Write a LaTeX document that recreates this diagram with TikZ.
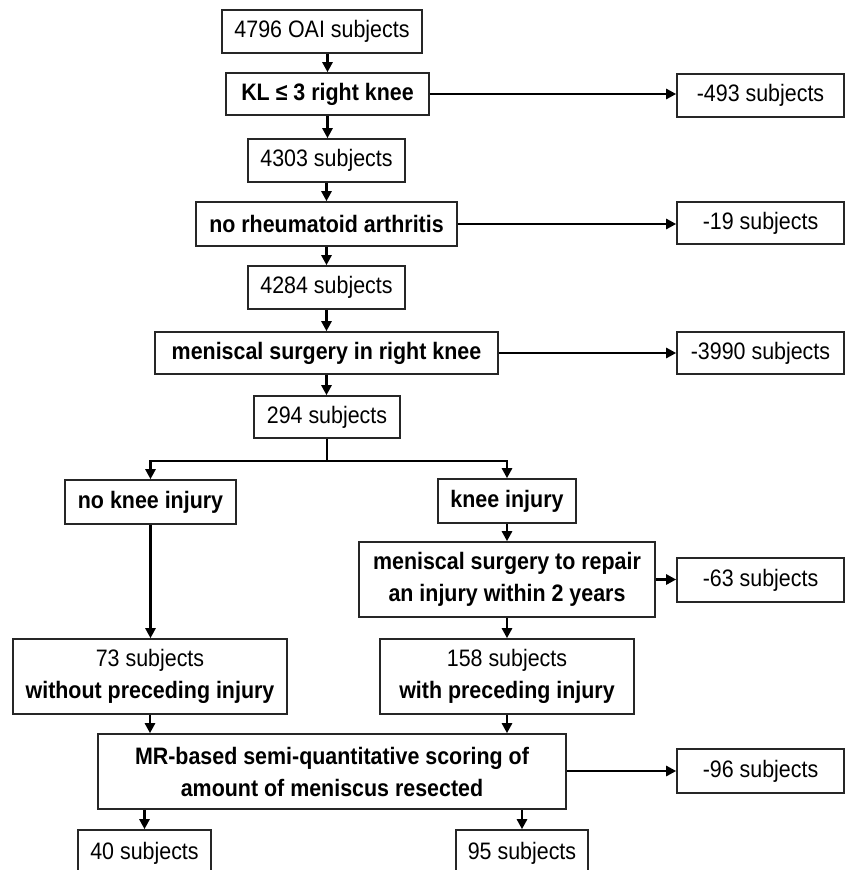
\documentclass[tikz,border=0pt]{standalone}
\usepackage{fontspec}
\setmainfont{Liberation Sans}[FakeStretch=0.9]
\usetikzlibrary{arrows.meta,calc}
\begin{document}
\begin{tikzpicture}[x=1pt,y=-1pt,
  box/.style={draw=black!85,line width=1.6pt,fill=white,inner sep=0pt,align=center,
    font=\fontsize{23.8}{32}\selectfont},
  bbox/.style={box,font=\fontsize{23.8}{32}\selectfont\bfseries},
  conn/.style={line width=2.8pt,draw=black,-{Triangle[length=10pt,width=10pt]}},
  seg/.style={line width=2.8pt,draw=black}]
\useasboundingbox (0,0) rectangle (847,870);
\clip (0,0) rectangle (847,870);
\node[box,minimum width=200pt,minimum height=43pt] (n1) at (322,31.5) {4796 OAI subjects};
\node[bbox,minimum width=203pt,minimum height=42pt] (n2) at (327.5,94) {KL ≤ 3 right knee};
\node[box,minimum width=167pt,minimum height=43pt] (n3) at (760.5,95.5) {-493 subjects};
\node[box,minimum width=157pt,minimum height=43pt] (n4) at (326.5,160.5) {4303 subjects};
\node[bbox,minimum width=261pt,minimum height=44pt] (n5) at (326.5,224) {no rheumatoid arthritis};
\node[box,minimum width=167pt,minimum height=42pt] (n6) at (760.5,223) {-19 subjects};
\node[box,minimum width=157pt,minimum height=43pt] (n7) at (326.5,287.5) {4284 subjects};
\node[bbox,minimum width=343pt,minimum height=42pt] (n8) at (326.5,353) {meniscal surgery in right knee};
\node[box,minimum width=167pt,minimum height=42pt] (n9) at (760.5,353) {-3990 subjects};
\node[box,minimum width=146pt,minimum height=42pt] (n10) at (327,417) {294 subjects};
\node[bbox,minimum width=171pt,minimum height=44pt] (n11) at (150.5,502) {no knee injury};
\node[bbox,minimum width=138pt,minimum height=44pt] (n12) at (507,501) {knee injury};
\node[bbox,minimum width=296pt,minimum height=75pt] (n13) at (507,579.5) {meniscal surgery to repair\\an injury within 2 years};
\node[box,minimum width=167pt,minimum height=44pt] (n14) at (760.5,580) {-63 subjects};
\node[box,minimum width=274pt,minimum height=75pt] (n15) at (150,676.5) {73 subjects\\\textbf{without preceding injury}};
\node[box,minimum width=254pt,minimum height=75pt] (n16) at (507,676.5) {158 subjects\\\textbf{with preceding injury}};
\node[bbox,minimum width=468pt,minimum height=75pt] (n17) at (332,771.5) {MR-based semi-quantitative scoring of\\amount of meniscus resected};
\node[box,minimum width=167pt,minimum height=44pt] (n18) at (760.5,771) {-96 subjects};
\node[box,minimum width=133pt,minimum height=46pt] (n19) at (144.5,853) {40 subjects};
\node[box,minimum width=132pt,minimum height=46pt] (n20) at (522,853) {95 subjects};
\coordinate (br) at (327,461);
% main column
\draw[conn] (n1.south -| n2.north) -- (n2.north);
\draw[conn] (n2.south) -- (n2.south |- n4.north);
\draw[conn] (n4.south) -- (n4.south |- n5.north);
\draw[conn] (n5.south) -- (n5.south |- n7.north);
\draw[conn] (n7.south) -- (n7.south |- n8.north);
\draw[conn] (n8.south) -- (n8.south |- n10.north);
% exclusions
\draw[conn] (n2.east) -- (n2.east -| n3.west);
\draw[conn] (n5.east) -- (n5.east -| n6.west);
\draw[conn] (n8.east) -- (n8.east -| n9.west);
\draw[conn] (n13.east) -- (n13.east -| n14.west);
\draw[conn] (n17.east |- n18.west) -- (n18.west);
% branch
\draw[seg] (n10.south -| br) -- (br);
\draw[conn] (br) -| (n11.north);
\draw[conn] (br) -| (n12.north);
\draw[conn] (n12.south) -- (n12.south |- n13.north);
\draw[conn] (n11.south) -- (n11.south |- n15.north);
\draw[conn] (n13.south) -- (n13.south |- n16.north);
\draw[conn] (n15.south) -- (n15.south |- n17.north);
\draw[conn] (n16.south) -- (n16.south |- n17.north);
\draw[conn] (n17.south -| n19.north) -- (n19.north);
\draw[conn] (n17.south -| n20.north) -- (n20.north);
\end{tikzpicture}
\end{document}
